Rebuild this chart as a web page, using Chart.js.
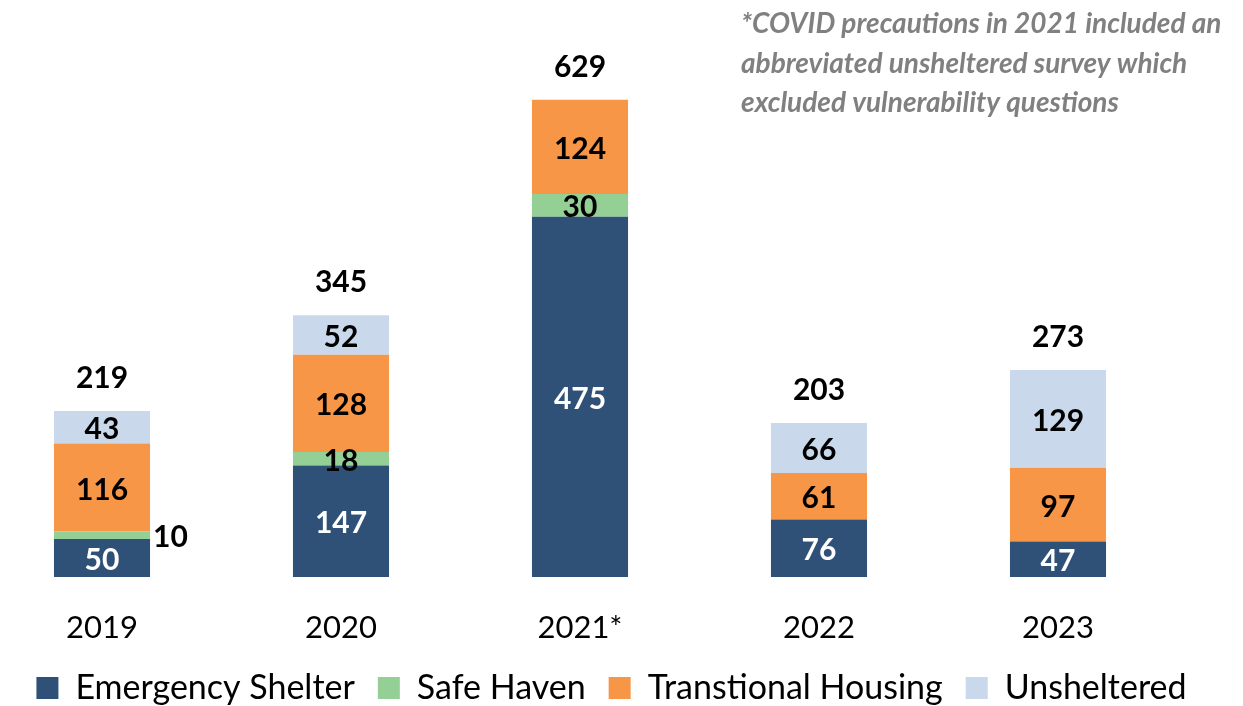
<!DOCTYPE html>
<html><head><meta charset="utf-8">
<script src="https://cdn.jsdelivr.net/npm/chart.js@4"></script>
<style>html,body{margin:0;padding:0;background:#fff}#wrap{width:1243px;height:706px;position:relative}</style>
</head><body><div id="wrap"><canvas id="c" width="1243" height="706"></canvas></div>
<script>
const categories = ['2019', '2020', '2021*', '2022', '2023'];
const emergencyShelter = [50, 147, 475, 76, 47];
const safeHaven = [10, 18, 30, 0, 0];
const transitionalHousing = [116, 128, 124, 61, 97];
const unsheltered = [43, 52, 0, 66, 129];
const totals = [219, 345, 629, 203, 273];
const seriesNames = ['Emergency Shelter', 'Safe Haven', 'Transtional Housing', 'Unsheltered'];
const seriesColors = ['#2F5178', '#94CF96', '#F79646', '#C9D9EB'];
const noteLines = ['*COVID precautions in 2021 included an', 'abbreviated unsheltered survey which', 'excluded vulnerability questions'];

const FONT = 'Lato, "Open Sans", sans-serif';
const series = [emergencyShelter, safeHaven, transitionalHousing, unsheltered];

const labelPlugin = {
  id: 'labels',
  afterDatasetsDraw(chart) {
    const ctx = chart.ctx;
    ctx.save();
    ctx.font = 'bold 30px ' + FONT;
    ctx.textBaseline = 'middle';
    chart.data.datasets.forEach((ds, di) => {
      const meta = chart.getDatasetMeta(di);
      meta.data.forEach((el, i) => {
        const v = series[di][i];
        if (!v) return;
        const cy = (el.y + el.base) / 2;
        if (v < 12) {
          ctx.textAlign = 'left';
          ctx.fillStyle = '#000';
          ctx.fillText(String(v), el.x + el.width / 2 + 3, cy + 2);
        } else {
          ctx.textAlign = 'center';
          ctx.fillStyle = di === 0 ? '#fff' : '#000';
          ctx.fillText(String(v), el.x, cy + 2.5);
        }
      });
    });
    const ys = chart.scales.y, xs = chart.scales.x;
    ctx.textAlign = 'center';
    ctx.fillStyle = '#000';
    totals.forEach((t, i) => {
      ctx.fillText(String(t), xs.getPixelForValue(i), ys.getPixelForValue(t) - 33);
    });
    ctx.font = 'italic bold 28px ' + FONT;
    ctx.fillStyle = '#808080';
    ctx.textAlign = 'left';
    noteLines.forEach((l, k) => ctx.fillText(l, 741, 24 + k * 39.5));
    ctx.restore();
  }
};

new Chart(document.getElementById('c'), {
  type: 'bar',
  data: {
    datasets: series.map((vals, di) => ({
      label: seriesNames[di],
      data: vals.map((v, i) => ({ x: i, y: v })),
      backgroundColor: seriesColors[di],
      borderWidth: 0,
      barPercentage: 0.402,
      categoryPercentage: 1
    }))
  },
  options: {
    responsive: false,
    animation: false,
    events: [],
    layout: { padding: { top: 46, left: 0, right: 20, bottom: -9 } },
    scales: {
      x: {
        type: 'linear',
        stacked: true,
        offset: false,
        min: -0.4268,
        max: 4.6904,
        grid: { display: false, drawTicks: false },
        border: { display: false },
        afterBuildTicks: (s) => { s.ticks = categories.map((c, i) => ({ value: i })); },
        ticks: {
          padding: 5,
          autoSkip: false,
          maxRotation: 0,
          color: '#000',
          font: { family: FONT, size: 31, lineHeight: 1.0 },
          callback: (v) => categories[v]
        }
      },
      y: {
        stacked: true,
        display: false,
        min: -39.47,
        max: 700
      }
    },
    plugins: {
      legend: {
        position: 'bottom',
        labels: {
          boxWidth: 22,
          boxHeight: 22,
          padding: 23,
          color: '#000',
          font: { family: FONT, size: 34 }
        }
      },
      tooltip: { enabled: false }
    }
  },
  plugins: [labelPlugin]
});
</script>
</body></html>
